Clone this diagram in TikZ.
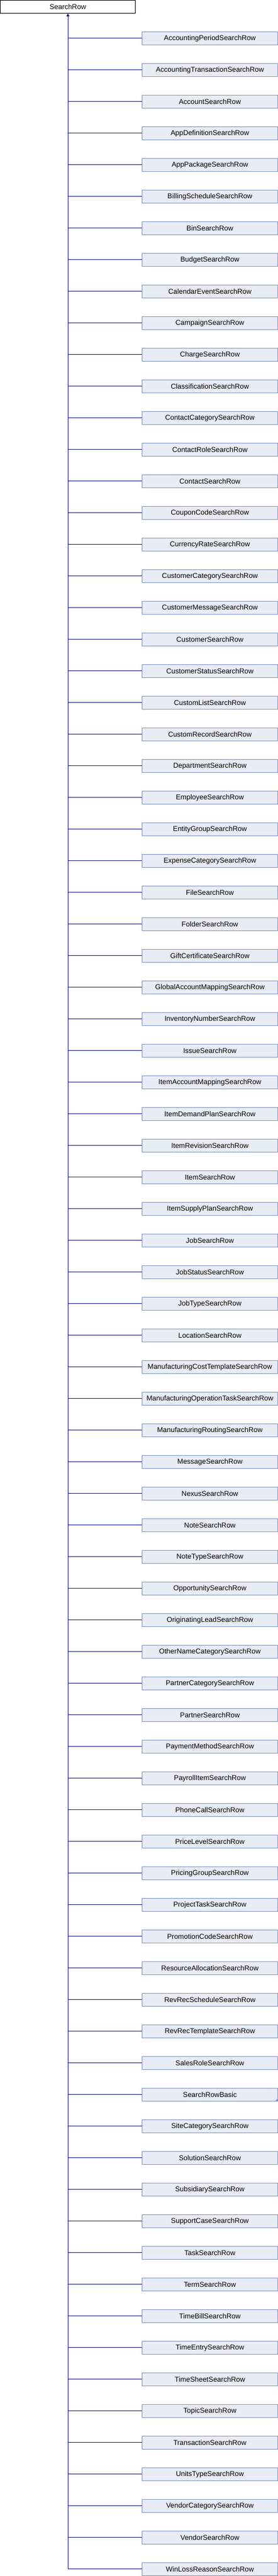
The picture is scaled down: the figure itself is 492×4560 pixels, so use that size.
\documentclass[tikz,border=0pt]{standalone}
\usepackage{fontspec}
\setmainfont{Liberation Sans}
\usetikzlibrary{arrows.meta}
\definecolor{boxfill}{RGB}{232,236,245}
\definecolor{boxdraw}{RGB}{124,146,200}
\definecolor{edgecol}{RGB}{20,20,140}
\begin{document}
\begin{tikzpicture}[x=1pt,y=-1pt,
  rootbox/.style={draw=black, fill=white, line width=1pt, minimum width=239.5pt, minimum height=23pt, inner sep=0pt, font=\fontsize{12.5}{14}\selectfont},
  childbox/.style={draw=boxdraw, fill=boxfill, line width=1pt, minimum width=240pt, minimum height=23pt, inner sep=0pt, font=\fontsize{12.5}{14}\selectfont},
  branch/.style={draw=edgecol, line width=1pt},
  edge/.style={draw=edgecol, line width=1pt, -{Triangle[length=5pt,width=5pt]}}]
\useasboundingbox (0,0) rectangle (492,4560);
\node[rootbox] (root) at (120.2,11.8) {SearchRow};
\foreach \name [count=\i from 0] in {AccountingPeriodSearchRow,AccountingTransactionSearchRow,AccountSearchRow,AppDefinitionSearchRow,AppPackageSearchRow,BillingScheduleSearchRow,BinSearchRow,BudgetSearchRow,CalendarEventSearchRow,CampaignSearchRow,ChargeSearchRow,ClassificationSearchRow,ContactCategorySearchRow,ContactRoleSearchRow,ContactSearchRow,CouponCodeSearchRow,CurrencyRateSearchRow,CustomerCategorySearchRow,CustomerMessageSearchRow,CustomerSearchRow,CustomerStatusSearchRow,CustomListSearchRow,CustomRecordSearchRow,DepartmentSearchRow,EmployeeSearchRow,EntityGroupSearchRow,ExpenseCategorySearchRow,FileSearchRow,FolderSearchRow,GiftCertificateSearchRow,GlobalAccountMappingSearchRow,InventoryNumberSearchRow,IssueSearchRow,ItemAccountMappingSearchRow,ItemDemandPlanSearchRow,ItemRevisionSearchRow,ItemSearchRow,ItemSupplyPlanSearchRow,JobSearchRow,JobStatusSearchRow,JobTypeSearchRow,LocationSearchRow,ManufacturingCostTemplateSearchRow,ManufacturingOperationTaskSearchRow,ManufacturingRoutingSearchRow,MessageSearchRow,NexusSearchRow,NoteSearchRow,NoteTypeSearchRow,OpportunitySearchRow,OriginatingLeadSearchRow,OtherNameCategorySearchRow,PartnerCategorySearchRow,PartnerSearchRow,PaymentMethodSearchRow,PayrollItemSearchRow,PhoneCallSearchRow,PriceLevelSearchRow,PricingGroupSearchRow,ProjectTaskSearchRow,PromotionCodeSearchRow,ResourceAllocationSearchRow,RevRecScheduleSearchRow,RevRecTemplateSearchRow,SalesRoleSearchRow,SearchRowBasic,SiteCategorySearchRow,SolutionSearchRow,SubsidiarySearchRow,SupportCaseSearchRow,TaskSearchRow,TermSearchRow,TimeBillSearchRow,TimeEntrySearchRow,TimeSheetSearchRow,TopicSearchRow,TransactionSearchRow,UnitsTypeSearchRow,VendorCategorySearchRow,VendorSearchRow,WinLossReasonSearchRow} {
  \node[childbox] (c\i) at (371.5,{67.8+56*\i}) {\name};
  \draw[branch] (c\i.west) -- (c\i.west -| root.south);
}
\draw[edge, line cap=rect] (c80.west -| root.south) -- (root.south);
\fill[boxdraw] (c65.south east) -- ++(-5.5,0) -- ++(5.5,-5.5) -- cycle;
\end{tikzpicture}
\end{document}
